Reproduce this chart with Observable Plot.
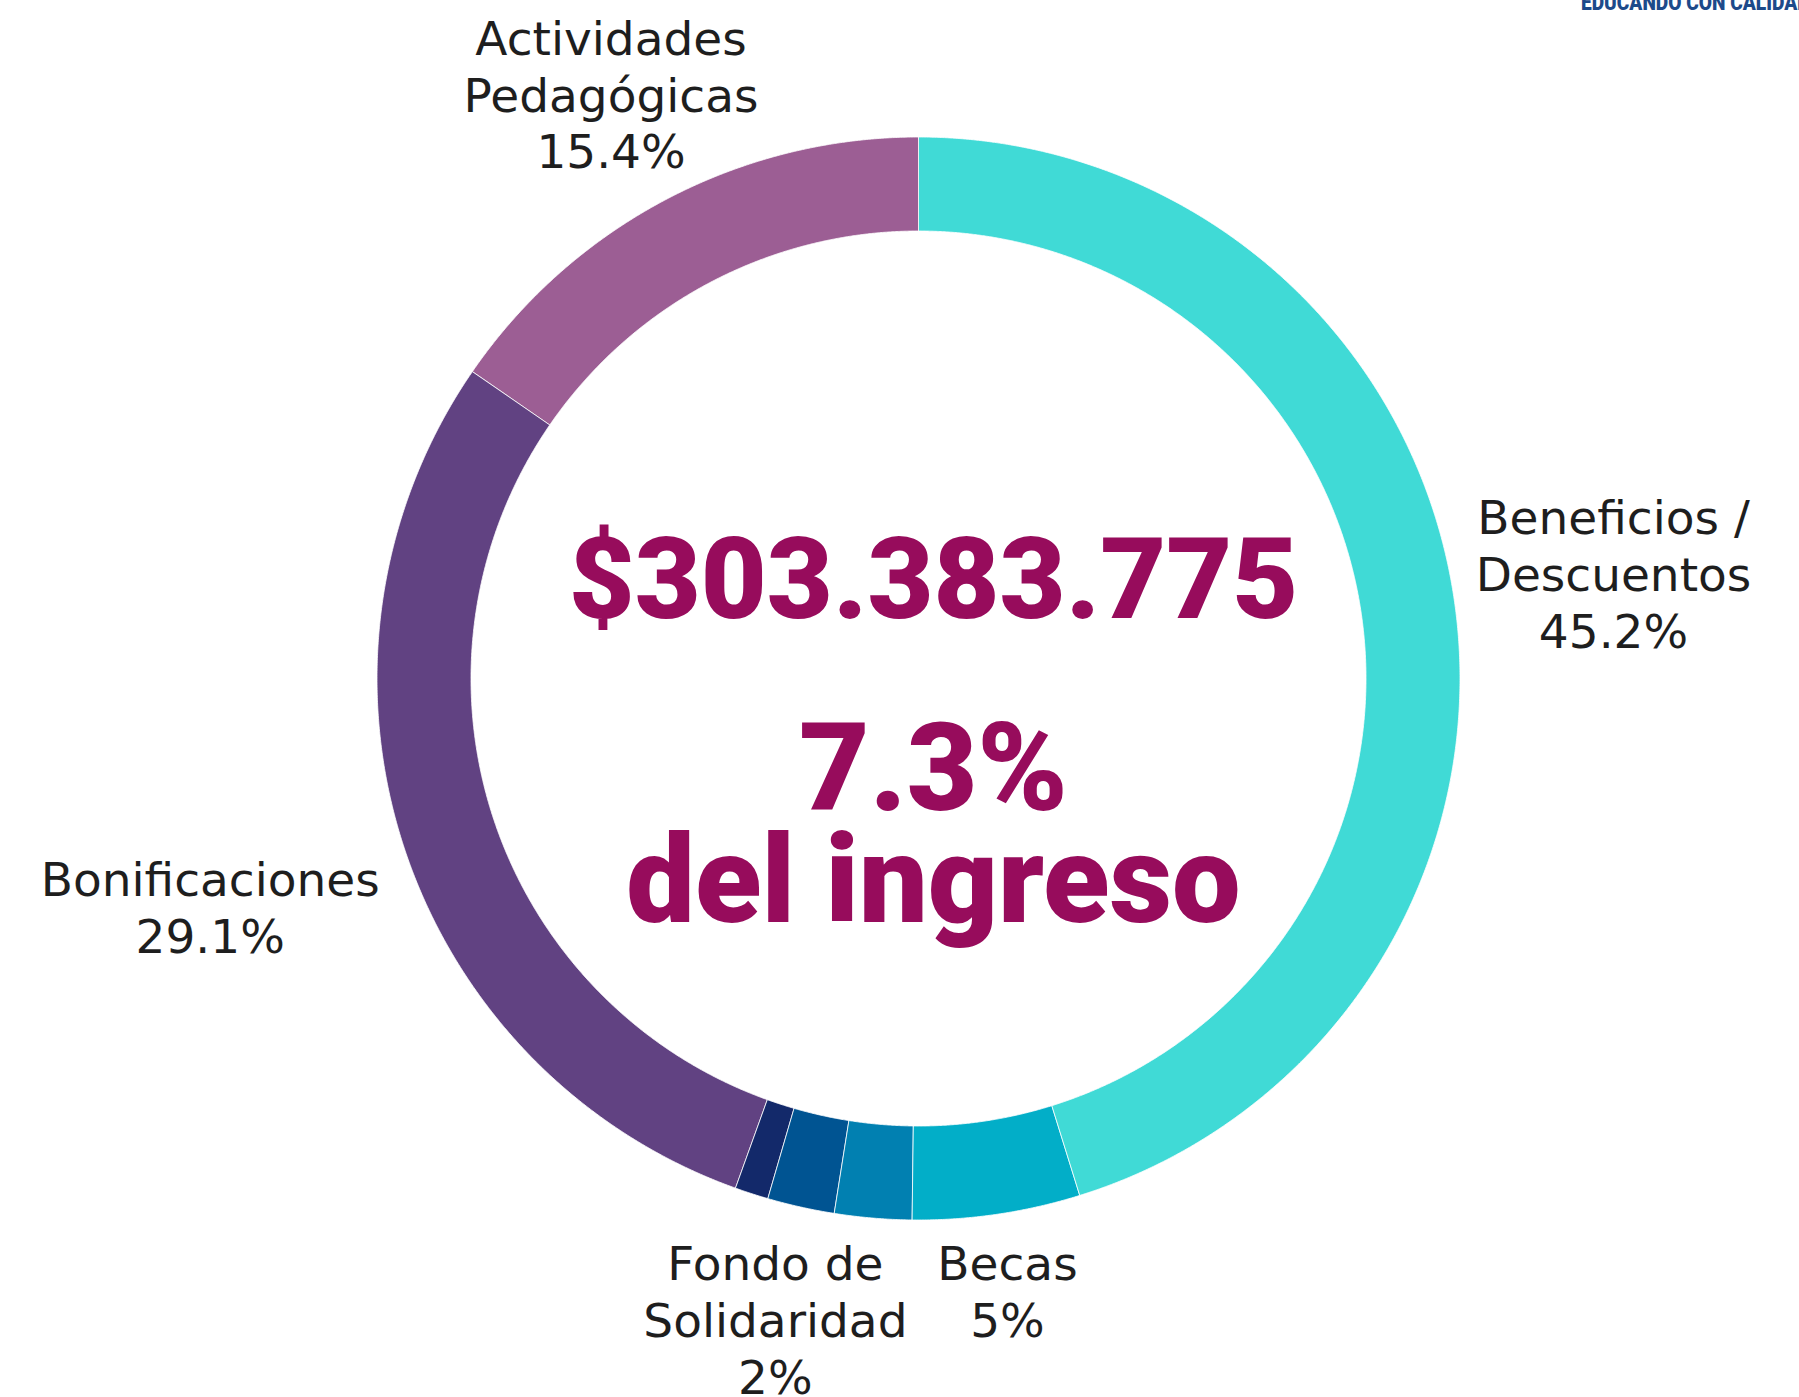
<!DOCTYPE html>
<html>
<head>
<meta charset="utf-8">
<script src="https://cdn.jsdelivr.net/npm/d3@7"></script>
<script src="https://cdn.jsdelivr.net/npm/@observablehq/plot@0.6"></script>
<style>
  html, body { margin: 0; padding: 0; background: #ffffff; overflow: hidden; }
  #wrap { position: relative; width: 1799px; height: 1397px; overflow: hidden; }
  #logo { position: absolute; left: 1581px; top: -8px; font: 900 22px/22px Roboto, sans-serif; color: #1d4a8a; white-space: nowrap; transform: scaleX(0.87); transform-origin: left top; }
</style>
</head>
<body>
<div id="wrap"><div id="logo">EDUCANDO CON CALIDAD</div><div id="chart"></div></div>
<script>
// ---- data (clockwise from 12 o'clock) ----
const categories = ["Beneficios / Descuentos", "Becas", "Sin etiqueta 1", "Fondo de Solidaridad", "Sin etiqueta 2", "Bonificaciones", "Actividades Pedagógicas"];
const shares = [45.2, 5.0, 2.3, 2.0, 1.0, 29.1, 15.4];
const labelTexts = ["Beneficios /\nDescuentos\n45.2%", "Becas\n5%", "", "Fondo de\nSolidaridad\n2%", "", "Bonificaciones\n29.1%", "Actividades\nPedagógicas\n15.4%"];
const colors = ["#40dad6", "#02aec8", "#0180b1", "#005492", "#13296a", "#614282", "#9c5e94"];
const centerLines = ["$303.383.775", "7.3%", "del ingreso"];

// ---- layout ----
const W = 1799, H = 1397;
const cx = 918, cy = 678;
const R = 541.5, r = 447.5;
const labelRadius = [703, 618, 0, 656, 0, 744, 661];
const centerDy = [-61, 131, 243];
const centerSize = [114, 122, 122];

const total = d3.sum(shares);
let acc = 0;
const slices = categories.map((name, i) => {
  const a0 = acc / total * 2 * Math.PI;
  acc += shares[i];
  const a1 = acc / total * 2 * Math.PI;
  return {name, a0, a1, mid: (a0 + a1) / 2, label: labelTexts[i], lr: labelRadius[i]};
});

const pts = [];
for (const s of slices) {
  const n = Math.max(4, Math.ceil((s.a1 - s.a0) / 0.003));
  for (let k = 0; k <= n; k++) {
    const a = s.a0 + (s.a1 - s.a0) * k / n;
    pts.push({name: s.name, x: R * Math.sin(a), y: R * Math.cos(a)});
  }
  for (let k = n; k >= 0; k--) {
    const a = s.a0 + (s.a1 - s.a0) * k / n;
    pts.push({name: s.name, x: r * Math.sin(a), y: r * Math.cos(a)});
  }
}

const labels = slices.filter(s => s.label).map(s => ({
  text: s.label, x: s.lr * Math.sin(s.mid), y: s.lr * Math.cos(s.mid)
}));

const centerData = centerLines.map((t, i) => ({text: t, x: 0, y: 0, dy: centerDy[i], size: centerSize[i]}));

const chart = Plot.plot({
  width: W,
  height: H,
  margin: 0,
  style: {background: "#ffffff"},
  x: {domain: [-cx, W - cx], axis: null},
  y: {domain: [-(H - cy), cy], axis: null},
  color: {domain: categories, range: colors},
  marks: [
    Plot.line(pts, {x: "x", y: "y", z: "name", fill: "name", stroke: "#ffffff", strokeWidth: 0.8, curve: "linear-closed"}),
    Plot.text(labels, {x: "x", y: "y", text: "text", fontSize: 47, lineHeight: 1.21, fill: "#1e1e1e", fontFamily: "DejaVu Sans, sans-serif", fontWeight: 400}),
    ...centerData.map(d => Plot.text([d], {x: "x", y: "y", text: "text", dx: 15, dy: d.dy, lineAnchor: "bottom", fontSize: d.size, fontWeight: 900, fill: "#970c5c", fontFamily: "Roboto, sans-serif"}))
  ]
});
document.getElementById("chart").appendChild(chart);
</script>
</body>
</html>
